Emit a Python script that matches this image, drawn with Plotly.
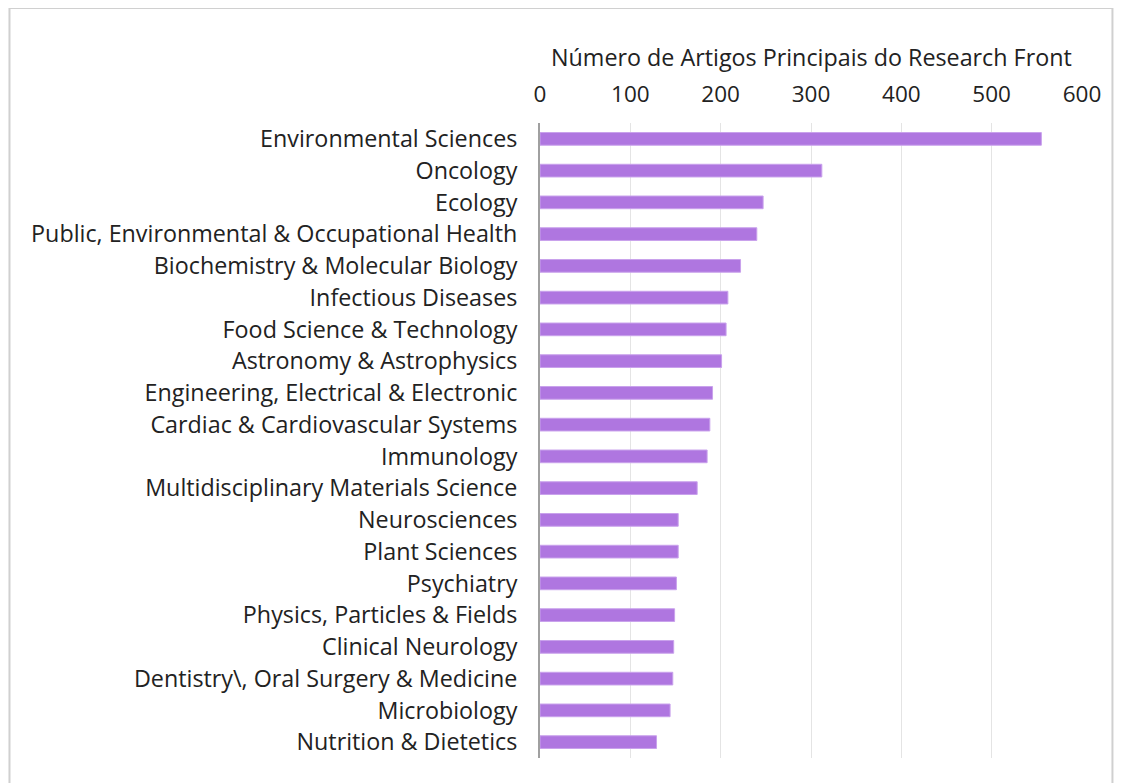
import plotly.graph_objects as go

categories = [
    "Environmental Sciences",
    "Oncology",
    "Ecology",
    "Public, Environmental & Occupational Health",
    "Biochemistry & Molecular Biology",
    "Infectious Diseases",
    "Food Science & Technology",
    "Astronomy & Astrophysics",
    "Engineering, Electrical & Electronic",
    "Cardiac & Cardiovascular Systems",
    "Immunology",
    "Multidisciplinary Materials Science",
    "Neurosciences",
    "Plant Sciences",
    "Psychiatry",
    "Physics, Particles & Fields",
    "Clinical Neurology",
    "Dentistry\\, Oral Surgery & Medicine",
    "Microbiology",
    "Nutrition & Dietetics",
]
values = [555, 312, 247, 240, 222, 208, 206, 201, 191, 188, 185, 174,
          153, 153, 151, 149, 148, 147, 144, 129]
tick_vals = [0, 100, 200, 300, 400, 500, 600]
axis_title = "Número de Artigos Principais do Research Front"

FONT = "Open Sans"
FS_LBL = 23.3
FS_TICK = 22.5
TXT = "#222222"
# page has an 8px body margin; figure is placed at (8, 8)
W, H = 1114, 775
L, R, T, B = 531.5, 39.5, 115, 25
pw, ph = W - L - R, H - T - B

fig = go.Figure(go.Bar(
    x=values, y=categories, orientation="h",
    marker=dict(color="#AF76E0", line=dict(color="#C9A2EC", width=1)),
    width=0.4,
))

fig.update_layout(
    width=W, height=H,
    margin=dict(l=L, r=R, t=T, b=B, autoexpand=False),
    plot_bgcolor="white", paper_bgcolor="white",
    font=dict(family=FONT, size=FS_LBL, color=TXT),
    showlegend=False,
    xaxis=dict(
        side="top", range=[0, 600], tickvals=tick_vals,
        showgrid=True, gridcolor="#E4E4E4", gridwidth=1,
        zeroline=False, showline=False, ticks="",
        ticklabelstandoff=16,
        tickfont=dict(size=FS_TICK, family=FONT, color=TXT),
        fixedrange=True,
    ),
    yaxis=dict(
        autorange="reversed", showgrid=False, zeroline=False,
        showline=True, linecolor="#A0A0A0", linewidth=2, ticks="",
        ticklabelstandoff=16,
        tickfont=dict(size=FS_LBL, family=FONT, color=TXT),
        fixedrange=True,
    ),
)

fig.add_annotation(
    text=axis_title, xref="paper", yref="paper",
    x=0.5, y=1 + 66 / ph, xanchor="center", yanchor="middle",
    showarrow=False, font=dict(size=FS_LBL, family=FONT, color=TXT),
)

fig.add_shape(
    type="rect", xref="paper", yref="paper",
    x0=(0 - L) / pw, x1=(1105 - L) / pw,
    y0=(H - B - 792) / ph, y1=(H - B - 0) / ph,
    line=dict(color="#D0D0D0", width=2), fillcolor="rgba(0,0,0,0)",
    layer="below",
)

fig.write_html("out.html")
